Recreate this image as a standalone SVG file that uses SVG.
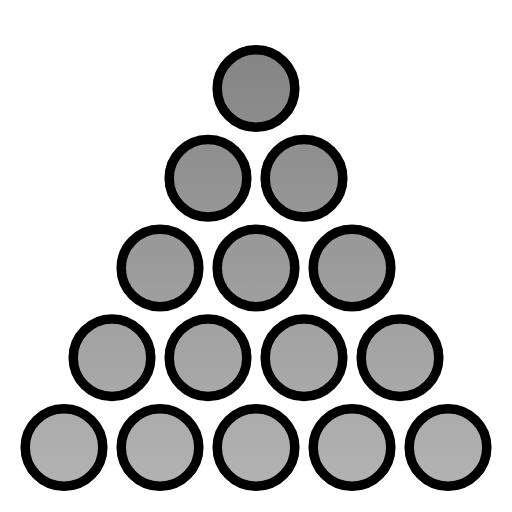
<svg xmlns="http://www.w3.org/2000/svg" width="512" height="512" viewBox="0 0 512 512">
<defs>
<linearGradient id="g" gradientUnits="userSpaceOnUse" x1="0" y1="45" x2="0" y2="491">
<stop offset="0" stop-color="#848484"/>
<stop offset="1" stop-color="#b3b3b3"/>
</linearGradient>
<style>.c{fill:url(#g);stroke:#000;stroke-width:9.5}</style>
</defs>
<rect width="512" height="512" fill="#fff"/>
<g id="r1"><circle class="c" cx="256" cy="88.5" r="38.8"/></g>
<g id="r2"><circle class="c" cx="208" cy="178.25" r="38.8"/><circle class="c" cx="304" cy="178.25" r="38.8"/></g>
<g id="r3"><circle class="c" cx="160" cy="268" r="38.8"/><circle class="c" cx="256" cy="268" r="38.8"/><circle class="c" cx="352" cy="268" r="38.8"/></g>
<g id="r4"><circle class="c" cx="112" cy="357.75" r="38.8"/><circle class="c" cx="208" cy="357.75" r="38.8"/><circle class="c" cx="304" cy="357.75" r="38.8"/><circle class="c" cx="400" cy="357.75" r="38.8"/></g>
<g id="r5"><circle class="c" cx="64" cy="447.5" r="38.8"/><circle class="c" cx="160" cy="447.5" r="38.8"/><circle class="c" cx="256" cy="447.5" r="38.8"/><circle class="c" cx="352" cy="447.5" r="38.8"/><circle class="c" cx="448" cy="447.5" r="38.8"/></g>
</svg>
